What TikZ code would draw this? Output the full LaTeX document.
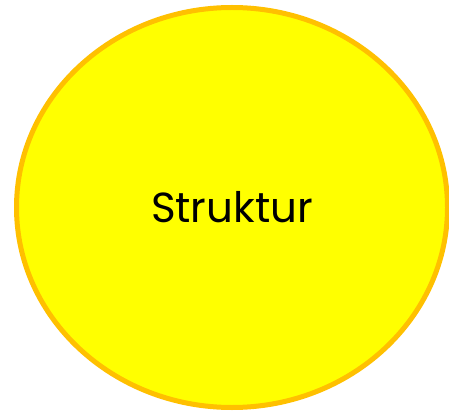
\documentclass[tikz,border=0pt]{standalone}
\usepackage{fontspec}
\setmainfont{Poppins}
\usetikzlibrary{shapes.geometric}
\definecolor{sunfill}{HTML}{FFFF00}
\definecolor{sunrim}{HTML}{FFC000}

\begin{document}
\begin{tikzpicture}[
  x=1pt, y=1pt,
  blob/.style={ellipse, draw=sunrim, fill=sunfill, line width=5pt, minimum width=431pt, minimum height=400pt, inner sep=0pt, font=\fontsize{42}{46}\selectfont},
]
  \useasboundingbox (0,0) rectangle (449,418);
  \node[blob] (struktur) at (232,210.5) {Struktur};
\end{tikzpicture}
\end{document}
